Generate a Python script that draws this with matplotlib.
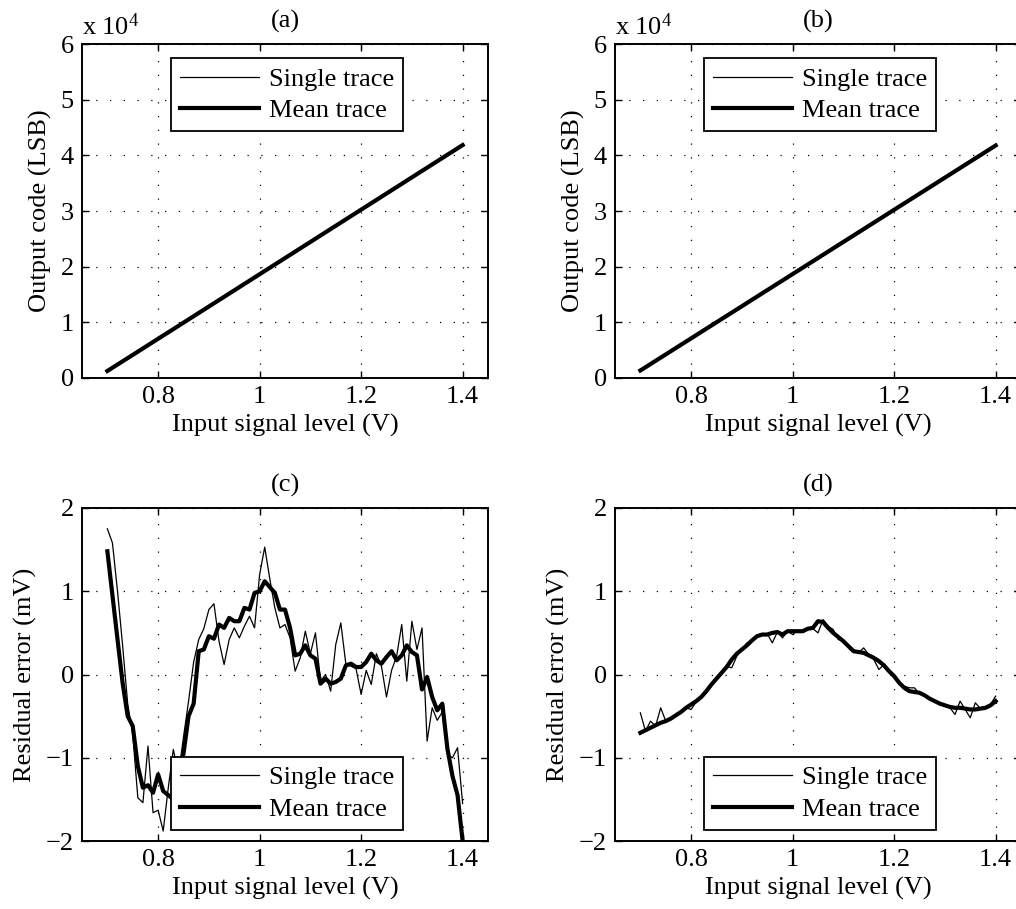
import numpy as np
import matplotlib
matplotlib.use("Agg")
import matplotlib.pyplot as plt
from matplotlib.ticker import FuncFormatter

plt.rcParams['font.family'] = ['Liberation Serif', 'DejaVu Serif']
plt.rcParams['mathtext.fontset'] = 'custom'
plt.rcParams['mathtext.rm'] = 'Liberation Serif'
plt.rcParams['mathtext.it'] = 'Liberation Serif:italic'
plt.rcParams['legend.fancybox'] = False

# Input level sweep (V)
vin = np.round(np.arange(0.70, 1.4001, 0.01), 2)

# Output code (LSB), panel (a): single and mean traces
code_a_single = [1260, 1840, 2420, 2995, 3575, 4150, 4730, 5310, 5890, 6465,
                 7045, 7625, 8200, 8780, 9360, 9940, 10520, 11100, 11680, 12260,
                 12840, 13420, 14000, 14580, 15160, 15740, 16320, 16900, 17480, 18060,
                 18640, 19220, 19800, 20380, 20960, 21540, 22120, 22700, 23280, 23860,
                 24440, 25020, 25600, 26180, 26760, 27340, 27920, 28500, 29080, 29660,
                 30240, 30820, 31400, 31980, 32560, 33140, 33720, 34300, 34880, 35460,
                 36040, 36620, 37200, 37780, 38360, 38940, 39520, 40100, 40680, 41260,
                 41840]
code_a_mean = code_a_single

# Output code (LSB), panel (b)
code_b_single = [1350, 1925, 2505, 3080, 3660, 4235, 4815, 5390, 5970, 6545,
                 7120, 7700, 8275, 8855, 9430, 10010, 10585, 11165, 11740, 12320,
                 12895, 13475, 14050, 14630, 15205, 15785, 16360, 16940, 17515, 18090,
                 18670, 19245, 19825, 20400, 20980, 21555, 22135, 22710, 23290, 23865,
                 24445, 25020, 25600, 26175, 26750, 27330, 27905, 28485, 29060, 29640,
                 30215, 30795, 31370, 31950, 32525, 33105, 33680, 34260, 34835, 35410,
                 35990, 36565, 37145, 37720, 38300, 38875, 39455, 40030, 40610, 41185,
                 41765]
code_b_mean = code_b_single

# Residual error (mV), panel (c)
res_c_single = [1.75, 1.58, 1.00, 0.35, -0.35, -0.72, -1.48, -1.54, -0.86, -1.66,
                -1.63, -1.88, -1.36, -0.90, -1.20, -0.75, -0.32, 0.15, 0.42, 0.55,
                0.78, 0.85, 0.40, 0.12, 0.42, 0.56, 0.44, 0.58, 0.70, 0.56,
                1.20, 1.53, 1.15, 0.80, 0.56, 0.60, 0.44, 0.04, 0.20, 0.52,
                0.25, 0.50, -0.08, 0.00, -0.20, 0.36, 0.62, 0.12, 0.10, 0.07,
                -0.24, 0.05, -0.12, 0.25, 0.10, -0.27, 0.05, 0.22, 0.60, -0.08,
                0.64, 0.30, 0.56, -0.80, -0.40, -0.55, -0.45, -0.96, -1.00, -0.88,
                -1.55]
res_c_mean = [1.48, 0.95, 0.42, -0.10, -0.50, -0.62, -1.10, -1.36, -1.33, -1.42,
              -1.20, -1.40, -1.45, -1.50, -1.25, -0.95, -0.50, -0.35, 0.28, 0.30,
              0.46, 0.43, 0.60, 0.56, 0.68, 0.64, 0.64, 0.80, 0.78, 0.98,
              1.00, 1.12, 1.05, 0.98, 0.78, 0.78, 0.56, 0.23, 0.25, 0.35,
              0.23, 0.19, -0.11, -0.05, -0.11, -0.09, -0.05, 0.11, 0.13, 0.09,
              0.09, 0.15, 0.25, 0.17, 0.13, 0.21, 0.28, 0.17, 0.23, 0.35,
              0.27, 0.23, -0.18, -0.03, -0.27, -0.43, -0.35, -0.89, -1.22, -1.45,
              -2.00]

# Residual error (mV), panel (d)
res_d_single = [-0.46, -0.68, -0.56, -0.62, -0.40, -0.56, -0.52, -0.49, -0.44, -0.40,
                -0.42, -0.33, -0.28, -0.22, -0.12, -0.05, 0.02, 0.10, 0.08, 0.22,
                0.30, 0.38, 0.40, 0.46, 0.48, 0.49, 0.38, 0.51, 0.44, 0.52,
                0.48, 0.53, 0.52, 0.54, 0.55, 0.50, 0.66, 0.58, 0.54, 0.42,
                0.40, 0.35, 0.30, 0.26, 0.32, 0.24, 0.18, 0.06, 0.12, 0.04,
                -0.02, -0.10, -0.14, -0.16, -0.16, -0.23, -0.26, -0.29, -0.33, -0.35,
                -0.38, -0.40, -0.48, -0.32, -0.42, -0.52, -0.34, -0.41, -0.40, -0.36,
                -0.26]
res_d_mean = [-0.70, -0.67, -0.64, -0.61, -0.58, -0.56, -0.53, -0.49, -0.45, -0.40,
              -0.36, -0.32, -0.27, -0.20, -0.12, -0.05, 0.02, 0.09, 0.18, 0.25,
              0.30, 0.35, 0.41, 0.46, 0.48, 0.48, 0.50, 0.51, 0.48, 0.52,
              0.52, 0.52, 0.52, 0.55, 0.56, 0.64, 0.63, 0.56, 0.50, 0.45,
              0.40, 0.34, 0.28, 0.27, 0.26, 0.23, 0.20, 0.16, 0.11, 0.04,
              -0.02, -0.10, -0.16, -0.20, -0.21, -0.22, -0.25, -0.29, -0.32, -0.35,
              -0.37, -0.39, -0.40, -0.40, -0.41, -0.42, -0.42, -0.41, -0.40, -0.37,
              -0.32]

titles = ['(a)', '(b)', '(c)', '(d)']
legend_labels = ['Single trace', 'Mean trace']
xlabel = 'Input signal level (V)'
ylabel_code = 'Output code (LSB)'
ylabel_res = 'Residual error (mV)'
xticks = [0.8, 1.0, 1.2, 1.4]

FS = 19
W, H = 1016, 909
fig = plt.figure(figsize=(W / 100, H / 100), dpi=100)

def box(l, t, r, b):
    return [l / W, (H - b) / H, (r - l) / W, (b - t) / H]

ax_a = fig.add_axes(box(82, 44, 488, 378))
ax_b = fig.add_axes(box(615, 44, 1021, 378))
ax_c = fig.add_axes(box(82, 508, 488, 841))
ax_d = fig.add_axes(box(615, 508, 1021, 841))

panels = [
    (ax_a, code_a_single, code_a_mean, 'code'),
    (ax_b, code_b_single, code_b_mean, 'code'),
    (ax_c, res_c_single, res_c_mean, 'res'),
    (ax_d, res_d_single, res_d_mean, 'res'),
]

legend_kw = dict(fontsize=FS, handlelength=3.0, handletextpad=0.35,
                 labelspacing=0.3, borderpad=0.35, borderaxespad=0,
                 frameon=True, framealpha=1.0)

for i, (ax, single, mean, kind) in enumerate(panels):
    ax.plot(vin, single, color='black', lw=0.9, label=legend_labels[0])
    ax.plot(vin, mean, color='black', lw=3.0, label=legend_labels[1])
    ax.set_xlim(0.65, 1.45)
    ax.set_xticks(xticks)
    ax.xaxis.set_major_formatter(FuncFormatter(lambda x, _: f'{x:g}'))
    if kind == 'code':
        ax.set_ylim(0, 60000)
        ax.set_yticks(np.arange(0, 60001, 10000))
        ax.yaxis.set_major_formatter(FuncFormatter(lambda y, _: f'{y / 1e4:g}'))
        ax.set_ylabel(ylabel_code, fontsize=FS, labelpad=6)
        ax.text(0.0, 1.012, r'x 10$^4$', transform=ax.transAxes,
                ha='left', va='bottom', fontsize=FS)
    else:
        ax.set_ylim(-2, 2)
        ax.set_yticks([-2, -1, 0, 1, 2])
        ax.set_ylabel(ylabel_res, fontsize=FS, labelpad=6)
    ax.set_xlabel(xlabel, fontsize=FS, labelpad=4)
    ax.set_title(titles[i], fontsize=FS, pad=12)
    ax.grid(True, color='black', linestyle=(0, (1, 10)), linewidth=0.9)
    ax.tick_params(direction='in', length=5, width=1.0, top=True, right=True,
                   labelsize=FS, pad=6)
    for s in ax.spines.values():
        s.set_linewidth(1.4)
    if kind == 'code':
        leg = ax.legend(loc='upper center', bbox_to_anchor=(0.505, 0.958), **legend_kw)
    else:
        leg = ax.legend(loc='lower center', bbox_to_anchor=(0.505, 0.033), **legend_kw)
    frame = leg.get_frame()
    frame.set_edgecolor('black')
    frame.set_linewidth(1.3)

fig.savefig('out.png', dpi=100)
